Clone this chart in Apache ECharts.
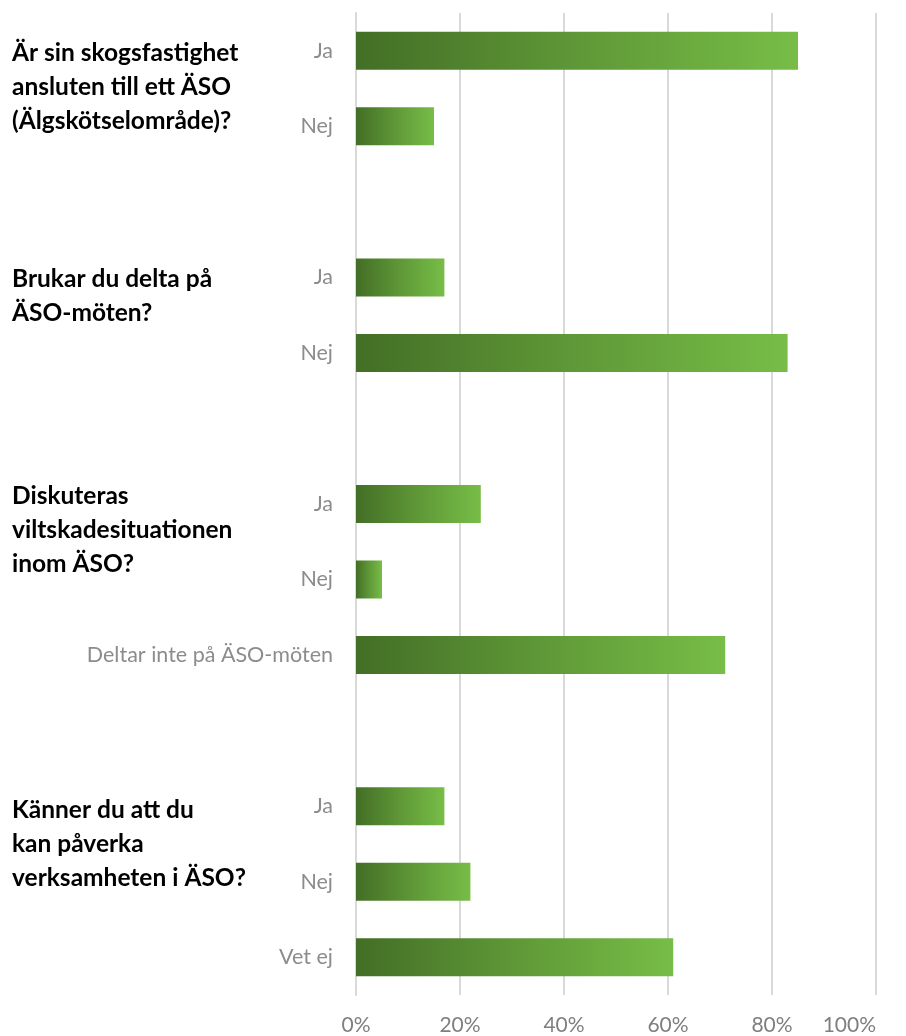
<!DOCTYPE html>
<html>
<head>
  <meta charset="UTF-8">
  <title>ÄSO</title>
  <script src="https://cdn.jsdelivr.net/npm/echarts@6/dist/echarts.min.js"></script>
  <style>
    html, body { margin: 0; padding: 0; background: #fff; }
    #main { width: 906px; height: 1036px; }
  </style>
</head>
<body>
<div id="main"></div>
<script type="text/javascript">
  // svarsalternativ, tomma rader skiljer frågorna åt
  var answers = ['Ja', 'Nej', '', 'Ja', 'Nej', '', 'Ja', 'Nej', 'Deltar inte på ÄSO-möten', '', 'Ja', 'Nej', 'Vet ej'];
  var shares  = [85, 15, '-', 17, 83, '-', 24, 5, 71, '-', 17, 22, 61];
  var questions = [
    'Är sin skogsfastighet\nansluten till ett ÄSO\n(Älgskötselområde)?',
    'Brukar du delta på\nÄSO-möten?',
    'Diskuteras\nviltskadesituationen\ninom ÄSO?',
    'Känner du att du\nkan påverka\nverksamheten i ÄSO?'
  ];
  var xTicks = [0, 20, 40, 60, 80, 100];

  var myChart = echarts.init(document.getElementById('main'));

  var qTop = [36, 262, 479, 793];
  var graphics = questions.map(function (q, i) {
    return {
      type: 'text',
      left: 12,
      top: qTop[i],
      style: {
        text: q,
        font: 'bold 24.5px Lato',
        fill: '#000',
        lineHeight: 34
      }
    };
  });

  myChart.setOption({
    animation: false,
    graphic: graphics,
    grid: { left: 356, right: 30, top: 13, bottom: 40 },
    xAxis: {
      type: 'value',
      min: 0,
      max: 100,
      interval: 20,
      axisLine: { show: false },
      axisTick: { show: false },
      splitLine: { lineStyle: { color: '#d9d9d9', width: 2 } },
      axisLabel: {
        margin: 20,
        color: '#7f7f7f',
        fontFamily: 'Lato',
        fontSize: 21,
        alignMaxLabel: 'right',
        formatter: function (v) { return xTicks.indexOf(v) >= 0 ? v + '%' : ''; }
      }
    },
    yAxis: {
      type: 'category',
      inverse: true,
      data: answers,
      axisLine: { show: true, lineStyle: { color: '#d9d9d9', width: 2 } },
      axisTick: { show: false },
      axisLabel: {
        margin: 23,
        color: '#8c8c8c',
        fontFamily: 'Lato',
        fontSize: 21.5,
        interval: 0
      }
    },
    series: [{
      type: 'bar',
      data: shares,
      barWidth: 38,
      itemStyle: {
        color: new echarts.graphic.LinearGradient(0, 0, 1, 0, [
          { offset: 0, color: '#436e26' },
          { offset: 0.5, color: '#5f9837' },
          { offset: 1, color: '#77bd47' }
        ])
      }
    }]
  });
</script>
</body>
</html>
